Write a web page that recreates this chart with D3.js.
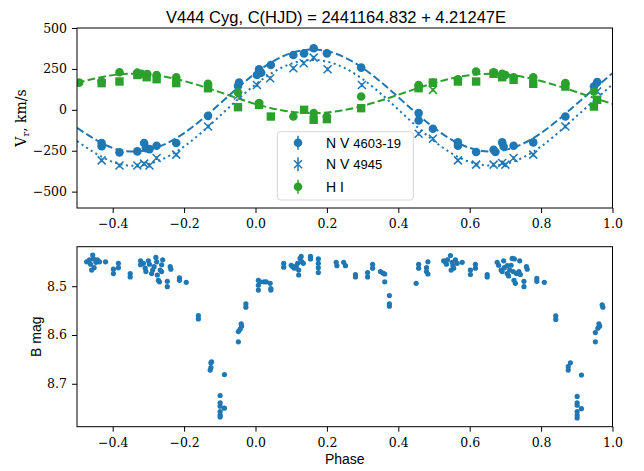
<!DOCTYPE html>
<html>
<head>
<meta charset="utf-8">
<script src="https://d3js.org/d3.v7.min.js"></script>
<style>
  body { margin: 0; background: #fff; }
  .tick line { stroke: #000; stroke-width: 1; }
  .domain { display: none; }
</style>
</head>
<body>
<div id="chart"></div>
<script>
// radial velocity panel
var nv4603Phase = [-0.431,-0.431,-0.381,-0.331,-0.312,-0.307,-0.297,-0.277,-0.222,-0.133,-0.046,-0.049,0.010,0.016,0.004,0.043,0.106,0.136,0.163,0.200,0.296,0.457,0.457,0.497,0.567,0.567,0.618,0.667,0.672,0.691,0.695,0.723,0.778,0.868,0.948,0.957];
var nv4603Vel = [-203,-223,-260,-254,-203,-234,-240,-220,-203,-37,166,146,248,227,213,274,335,345,376,345,258,-20,-65,-116,-199,-220,-258,-244,-258,-199,-224,-220,-199,-41,142,169];

var nv4945Phase = [-0.431,-0.381,-0.331,-0.312,-0.297,-0.277,-0.222,-0.133,-0.049,0.004,0.041,0.106,0.135,0.163,0.202,0.298,0.457,0.497,0.567,0.618,0.667,0.691,0.700,0.723,0.778,0.868,0.957];
var nv4945Vel = [-309,-340,-340,-329,-340,-295,-274,-102,87,152,193,254,285,319,248,152,-146,-177,-309,-335,-335,-325,-335,-295,-274,-102,112];

var hiCirclePhase = [-0.494,-0.431,-0.381,-0.331,-0.319,-0.303,-0.277,-0.222,-0.133,-0.049,0.010,0.106,0.163,0.200,0.296,0.457,0.497,0.567,0.618,0.667,0.691,0.700,0.723,0.778,0.868,0.948];
var hiCircleVel = [166,173,230,227,220,218,213,199,159,106,41,-41,-20,-41,81,152,166,187,234,230,220,213,199,199,163,112];

var hiSquarePhase = [-0.431,-0.381,-0.331,-0.305,-0.277,-0.222,-0.133,-0.049,0.010,0.043,0.136,0.163,0.200,0.296,0.457,0.497,0.567,0.618,0.667,0.691,0.723,0.778,0.868,0.948,0.957];
var hiSquareVel = [163,173,213,199,187,163,132,16,30,-41,0,-61,-57,10,132,166,173,173,220,199,183,159,142,20,61];

var hiCrossPhase = [0.497];
var hiCrossVel = [122];

// fitted curves read at phase steps
var fitPhase = [-0.5,-0.4,-0.3,-0.2,-0.1,0.0,0.1,0.2,0.3,0.4,0.5,0.6,0.7,0.8,0.9,1.0];
var nv4603Fit = [-110,-233,-245,-142,37,224,347,359,256,77,-110,-233,-245,-142,37,224];
var nv4945Fit = [-191,-318,-331,-224,-38,155,282,295,188,2,-191,-318,-331,-224,-38,155];
var hiFit = [164,212,216,176,108,36,-12,-16,24,92,164,212,216,176,108,36];

var velErr = 12;

// light curve panel
var lcPhase = [-0.473,-0.465,-0.462,-0.456,-0.454,-0.452,-0.447,-0.443,-0.437,-0.459,-0.420,-0.398,-0.398,-0.384,-0.384,-0.351,-0.351,
  -0.322,-0.322,-0.314,-0.309,-0.307,-0.300,-0.297,-0.291,-0.288,-0.284,-0.279,-0.277,-0.275,-0.272,-0.269,-0.267,-0.263,-0.263,-0.260,-0.247,-0.247,-0.239,-0.237,
  -0.213,-0.213,-0.194,-0.160,-0.160,-0.125,-0.125,-0.127,-0.123,
  -0.099,-0.099,-0.099,-0.099,-0.099,-0.099,-0.087,-0.087,
  -0.048,-0.048,-0.043,-0.040,-0.039,-0.027,-0.027,
  0.008,0.008,0.008,0.013,0.024,0.030,0.041,0.043,0.043,0.079,0.079,
  0.100,0.104,0.109,0.114,0.118,0.121,0.121,0.125,0.128,0.130,0.134,0.154,0.154,
  0.176,0.176,0.176,0.176,0.226,0.228,0.247,0.252,0.280,0.280,
  0.314,0.314,0.328,0.328,0.350,0.357,0.362,0.362,0.375,0.375,0.375,
  0.450,0.457,0.457,0.479,0.479,0.483,0.483,
  0.527,0.532,0.535,0.538,0.546,0.551,0.553,0.555,0.560,0.565,0.548,0.579,
  0.602,0.602,0.616,0.616,0.649,0.649,
  0.677,0.681,0.688,0.691,0.695,0.697,0.705,0.709,0.712,0.716,0.719,0.722,0.724,0.725,0.728,0.731,0.738,0.740,0.742,0.752,0.752,0.759,0.761,0.705,
  0.788,0.788,0.809,0.841,0.841,0.876,0.876,0.882,
  0.901,0.901,0.901,0.901,0.901,0.901,0.913,0.913,
  0.952,0.952,0.959,0.962,0.964,0.971,0.973];
var lcMag = [8.450,8.446,8.455,8.436,8.444,8.462,8.451,8.446,8.450,8.467,8.450,8.465,8.474,8.453,8.462,8.474,8.481,
  8.448,8.456,8.453,8.463,8.470,8.448,8.455,8.474,8.467,8.460,8.441,8.450,8.477,8.488,8.491,8.467,8.456,8.470,8.446,8.490,8.501,8.460,8.465,
  8.483,8.488,8.492,8.560,8.567,8.657,8.667,8.672,8.655,
  8.724,8.739,8.746,8.757,8.764,8.768,8.681,8.750,
  8.614,8.593,8.588,8.577,8.582,8.536,8.543,
  8.488,8.498,8.508,8.491,8.491,8.491,8.494,8.505,8.508,8.453,8.461,
  8.457,8.460,8.463,8.459,8.453,8.467,8.477,8.443,8.439,8.450,8.453,8.439,8.444,
  8.444,8.453,8.462,8.472,8.451,8.458,8.451,8.458,8.476,8.481,
  8.472,8.481,8.455,8.463,8.470,8.473,8.475,8.491,8.519,8.536,8.541,
  8.494,8.455,8.463,8.462,8.470,8.450,8.475,
  8.448,8.451,8.455,8.446,8.437,8.451,8.457,8.463,8.446,8.453,8.467,8.451,
  8.467,8.476,8.455,8.463,8.476,8.481,
  8.451,8.457,8.467,8.470,8.448,8.462,8.474,8.479,8.467,8.457,8.443,8.470,8.488,8.444,8.494,8.474,8.470,8.448,8.476,8.490,8.501,8.460,8.465,8.458,
  8.484,8.490,8.492,8.561,8.568,8.672,8.665,8.657,
  8.726,8.739,8.744,8.757,8.764,8.770,8.682,8.751,
  8.614,8.595,8.586,8.577,8.582,8.538,8.543];

var phaseTicks = [-0.4,-0.2,0.0,0.2,0.4,0.6,0.8,1.0];
var velTicks = [-500,-250,0,250,500];
var magTicks = [8.5,8.6,8.7];
var legendLabels = [["N V ", "4603-19"], ["N V ", "4945"], ["H I", ""]];

var blue = "#1f77b4", green = "#2ca02c";
var serifFont = "DejaVu Serif";
var sansFont = "Liberation Sans";
var width = 644, height = 471;

var svg = d3.select("#chart")
    .append("svg")
        .attr("width", width)
        .attr("height", height);

var x = d3.scaleLinear().domain([-0.5, 1.0]).range([77, 612.5]);
var yTop = d3.scaleLinear().domain([-600, 500]).range([208, 28]);
var yBot = d3.scaleLinear().domain([8.419, 8.788]).range([246.7, 426.7]);

var fmt = d3.format(".1f");

function styleAxis(g) {
    g.attr("font-family", serifFont).attr("font-size", 12.5);
    g.selectAll(".tick text")
        .attr("font-family", serifFont)
        .style("font-family", serifFont)
        .style("font-size", "12.5px")
        .attr("fill", "#000");
}

// clip regions
var defs = svg.append("defs");
defs.append("clipPath").attr("id", "clipTop").append("rect")
    .attr("x", x(-0.5)).attr("y", yTop(500))
    .attr("width", x(1.0) - x(-0.5)).attr("height", yTop(-600) - yTop(500));
defs.append("clipPath").attr("id", "clipBot").append("rect")
    .attr("x", x(-0.5)).attr("y", yBot.range()[0])
    .attr("width", x(1.0) - x(-0.5)).attr("height", yBot.range()[1] - yBot.range()[0]);

// title
svg.append("text")
    .attr("x", 336)
    .attr("y", 23)
    .attr("text-anchor", "middle")
    .style("font-family", sansFont)
    .style("font-size", "16.5px")
    .text("V444 Cyg, C(HJD) = 2441164.832 + 4.21247E");

// ---- top panel ----
var velPanel = svg.append("g");

velPanel.append("g")
    .attr("transform", "translate(0," + yTop(-600) + ")")
    .call(d3.axisBottom(x).tickValues(phaseTicks).tickFormat(fmt).tickSize(5).tickPadding(6))
    .call(styleAxis);

velPanel.append("g")
    .attr("transform", "translate(" + x(-0.5) + ",0)")
    .call(d3.axisLeft(yTop).tickValues(velTicks).tickSize(5).tickPadding(5))
    .call(styleAxis);

var plotTop = velPanel.append("g").attr("clip-path", "url(#clipTop)");

var fitLine = function(vals) {
    return d3.line()
        .x(function(d, i) { return x(fitPhase[i]); })
        .y(function(d) { return yTop(d); })
        .curve(d3.curveNatural)(vals);
};

plotTop.append("path").attr("d", fitLine(nv4603Fit))
    .attr("fill", "none").attr("stroke", blue).attr("stroke-width", 2)
    .attr("stroke-dasharray", "7.7,3.3");
plotTop.append("path").attr("d", fitLine(nv4945Fit))
    .attr("fill", "none").attr("stroke", blue).attr("stroke-width", 2)
    .attr("stroke-dasharray", "2.1,3.4");
plotTop.append("path").attr("d", fitLine(hiFit))
    .attr("fill", "none").attr("stroke", green).attr("stroke-width", 2)
    .attr("stroke-dasharray", "7.7,3.3");

function errBars(g, ph, vel, color) {
    g.selectAll(null)
        .data(vel)
        .enter()
        .append("line")
        .attr("x1", function(d, i) { return x(ph[i]); })
        .attr("x2", function(d, i) { return x(ph[i]); })
        .attr("y1", function(d) { return yTop(d - velErr); })
        .attr("y2", function(d) { return yTop(d + velErr); })
        .attr("stroke", color)
        .attr("stroke-width", 1.5);
}

function circles(g, ph, vel, color) {
    errBars(g, ph, vel, color);
    g.selectAll(null)
        .data(vel)
        .enter()
        .append("circle")
        .attr("cx", function(d, i) { return x(ph[i]); })
        .attr("cy", function(d) { return yTop(d); })
        .attr("r", 4.3)
        .attr("fill", color);
}

function crosses(g, ph, vel, color) {
    errBars(g, ph, vel, color);
    g.selectAll(null)
        .data(vel)
        .enter()
        .append("path")
        .attr("transform", function(d, i) { return "translate(" + x(ph[i]) + "," + yTop(d) + ")"; })
        .attr("d", "M-4,-4L4,4M-4,4L4,-4")
        .attr("stroke", color)
        .attr("stroke-width", 1.5)
        .attr("fill", "none");
}

function squares(g, ph, vel, color) {
    errBars(g, ph, vel, color);
    g.selectAll(null)
        .data(vel)
        .enter()
        .append("rect")
        .attr("x", function(d, i) { return x(ph[i]) - 4.2; })
        .attr("y", function(d) { return yTop(d) - 4.2; })
        .attr("width", 8.4)
        .attr("height", 8.4)
        .attr("fill", color);
}

circles(plotTop.append("g"), nv4603Phase, nv4603Vel, blue);
crosses(plotTop.append("g"), nv4945Phase, nv4945Vel, blue);
circles(plotTop.append("g"), hiCirclePhase, hiCircleVel, green);
squares(plotTop.append("g"), hiSquarePhase, hiSquareVel, green);
crosses(plotTop.append("g"), hiCrossPhase, hiCrossVel, green);

velPanel.append("rect")
    .attr("x", x(-0.5)).attr("y", yTop(500))
    .attr("width", x(1.0) - x(-0.5)).attr("height", yTop(-600) - yTop(500))
    .attr("fill", "none").attr("stroke", "#000").attr("stroke-width", 1);

var ylab = velPanel.append("text")
    .attr("transform", "translate(26," + ((yTop(500) + yTop(-600)) / 2) + ") rotate(-90)")
    .attr("text-anchor", "middle")
    .style("font-family", serifFont)
    .style("font-size", "14px");
ylab.append("tspan").text("V");
ylab.append("tspan").attr("dy", 3).style("font-size", "10px").text("r");
ylab.append("tspan").attr("dy", -3).text(",  km/s");

// legend
var legend = velPanel.append("g").attr("transform", "translate(277.3,131.7)");
legend.append("rect")
    .attr("width", 136).attr("height", 68.3).attr("rx", 3)
    .attr("fill", "#fff").attr("fill-opacity", 0.8)
    .attr("stroke", "#d5d5d5").attr("stroke-width", 1);

var legendY = [11, 32.6, 55];
var legendMarks = ["circle", "cross", "circle"];
var legendColors = [blue, blue, green];
legendLabels.forEach(function(lab, i) {
    var g = legend.append("g").attr("transform", "translate(20.7," + legendY[i] + ")");
    g.append("line").attr("y1", -7).attr("y2", 7)
        .attr("stroke", legendColors[i]).attr("stroke-width", 1.5);
    if (legendMarks[i] == "circle") {
        g.append("circle").attr("r", 4.3).attr("fill", legendColors[i]);
    } else {
        g.append("path").attr("d", "M-4,-4L4,4M-4,4L4,-4")
            .attr("stroke", legendColors[i]).attr("stroke-width", 1.5);
    }
    var t = legend.append("text")
        .attr("x", 48.7).attr("y", legendY[i] + 5)
        .style("font-family", sansFont)
        .style("font-size", "14px");
    t.append("tspan").text(lab[0]);
    t.append("tspan").style("font-size", "13px").text(lab[1]);
});

// ---- bottom panel ----
var magPanel = svg.append("g");

magPanel.append("g")
    .attr("transform", "translate(0," + yBot.range()[1] + ")")
    .call(d3.axisBottom(x).tickValues(phaseTicks).tickFormat(fmt).tickSize(5).tickPadding(6))
    .call(styleAxis);

magPanel.append("g")
    .attr("transform", "translate(" + x(-0.5) + ",0)")
    .call(d3.axisLeft(yBot).tickValues(magTicks).tickFormat(fmt).tickSize(5).tickPadding(5))
    .call(styleAxis);

magPanel.append("g").attr("clip-path", "url(#clipBot)")
    .selectAll("circle")
    .data(lcMag)
    .enter()
    .append("circle")
    .attr("cx", function(d, i) { return x(lcPhase[i]); })
    .attr("cy", function(d) { return yBot(d); })
    .attr("r", 2.6)
    .attr("fill", blue);

magPanel.append("rect")
    .attr("x", x(-0.5)).attr("y", yBot.range()[0])
    .attr("width", x(1.0) - x(-0.5)).attr("height", yBot.range()[1] - yBot.range()[0])
    .attr("fill", "none").attr("stroke", "#000").attr("stroke-width", 1);

magPanel.append("text")
    .attr("transform", "translate(41," + ((yBot.range()[0] + yBot.range()[1]) / 2) + ") rotate(-90)")
    .attr("text-anchor", "middle")
    .style("font-family", sansFont)
    .style("font-size", "14px")
    .text("B mag");

magPanel.append("text")
    .attr("x", (x(-0.5) + x(1.0)) / 2)
    .attr("y", 464)
    .attr("text-anchor", "middle")
    .style("font-family", sansFont)
    .style("font-size", "14px")
    .text("Phase");
</script>
</body>
</html>
